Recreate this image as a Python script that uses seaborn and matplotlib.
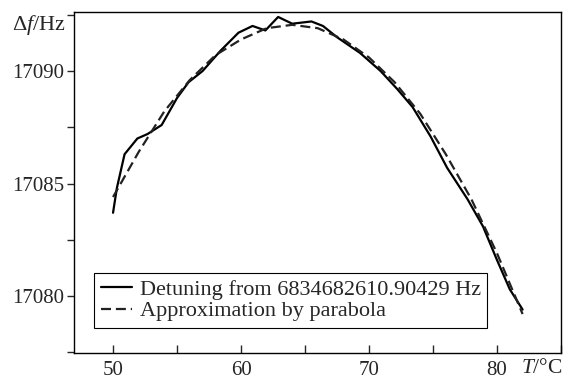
import pandas as pd
import matplotlib
matplotlib.use('Agg')
import matplotlib.pyplot as plt
import seaborn as sns
from matplotlib.ticker import MultipleLocator

temp_meas = [50.0, 50.3, 50.9, 51.9, 52.7, 53.8, 55.0, 55.9, 57.0, 58.4, 59.8,
             60.9, 61.9, 62.9, 64.0, 65.5, 66.4, 67.5, 69.3, 70.9, 72.2, 73.4,
             74.8, 76.1, 77.7, 78.9, 80.0, 81.0, 82.0]
df_meas = [17083.7, 17084.8, 17086.3, 17087.0, 17087.2, 17087.6, 17088.8,
           17089.5, 17090.0, 17090.9, 17091.7, 17092.0, 17091.8, 17092.4,
           17092.1, 17092.2, 17092.0, 17091.5, 17090.8, 17090.0, 17089.2,
           17088.4, 17087.1, 17085.7, 17084.3, 17083.1, 17081.6, 17080.3,
           17079.4]

# parabola approximation (dashed)
temp_fit = [50, 52, 54, 56, 58, 60, 62, 64, 66, 68, 70, 72, 74, 76, 78, 80, 82]
df_fit = [17084.4, 17086.4, 17088.2, 17089.6, 17090.7, 17091.4, 17091.9,
          17092.05, 17091.9, 17091.4, 17090.6, 17089.5, 17088.1, 17086.3,
          17084.3, 17081.9, 17079.2]

label_meas = 'Detuning from 6834682610.90429 Hz'
label_fit = 'Approximation by parabola'

data = pd.concat([
    pd.DataFrame({'T': temp_meas, 'df': df_meas, 'series': label_meas}),
    pd.DataFrame({'T': temp_fit, 'df': df_fit, 'series': label_fit}),
])

sns.set_style('ticks')
plt.rcParams['font.family'] = ['Liberation Serif', 'DejaVu Serif']
plt.rcParams['mathtext.fontset'] = 'custom'
plt.rcParams['mathtext.rm'] = 'Liberation Serif'
plt.rcParams['mathtext.it'] = 'Liberation Serif:italic'
plt.rcParams['font.size'] = 15

fig = plt.figure(figsize=(5.69, 3.80), dpi=100)
ax = fig.add_axes([74 / 569, 27 / 380, 487 / 569, 341 / 380])

sns.lineplot(data=data, x='T', y='df', hue='series', style='series',
             palette=['black', '#222222'], dashes=[(None, None), (4.5, 2.2)],
             linewidth=1.6, sort=False, estimator=None, ax=ax)

ax.set_xlim(46.95, 85.0)
ax.set_ylim(17077.47, 17092.62)
ax.xaxis.set_major_locator(MultipleLocator(10))
ax.xaxis.set_minor_locator(MultipleLocator(5))
ax.yaxis.set_major_locator(MultipleLocator(5))
ax.yaxis.set_minor_locator(MultipleLocator(2.5))
ax.tick_params(axis='x', which='both', direction='in', length=5.5, width=1,
               pad=6, labelsize=15)
ax.tick_params(axis='y', which='both', direction='out', length=5, width=1,
               pad=2, labelsize=15)
ax.ticklabel_format(axis='y', useOffset=False, style='plain')
for s in ax.spines.values():
    s.set_linewidth(1)
    s.set_color('black')

ax.set_xlabel(r'$T$/°C', fontsize=15.5, va='center', ha='right')
ax.set_ylabel(r'$\Delta f$/Hz', fontsize=16, rotation=0, ha='center', va='center')
ax.xaxis.set_label_coords(1.004, -0.045)
ax.yaxis.set_label_coords(-0.072, 0.962)

leg = ax.legend(loc='lower left', bbox_to_anchor=(0.041, 0.073), fontsize=16,
                frameon=True, fancybox=False, handlelength=1.4,
                borderpad=0.3, labelspacing=0.05, handletextpad=0.35,
                borderaxespad=0)
leg.get_frame().set_edgecolor('black')
leg.get_frame().set_linewidth(0.8)
leg.get_frame().set_alpha(1)

fig.savefig('out.png', dpi=100)
